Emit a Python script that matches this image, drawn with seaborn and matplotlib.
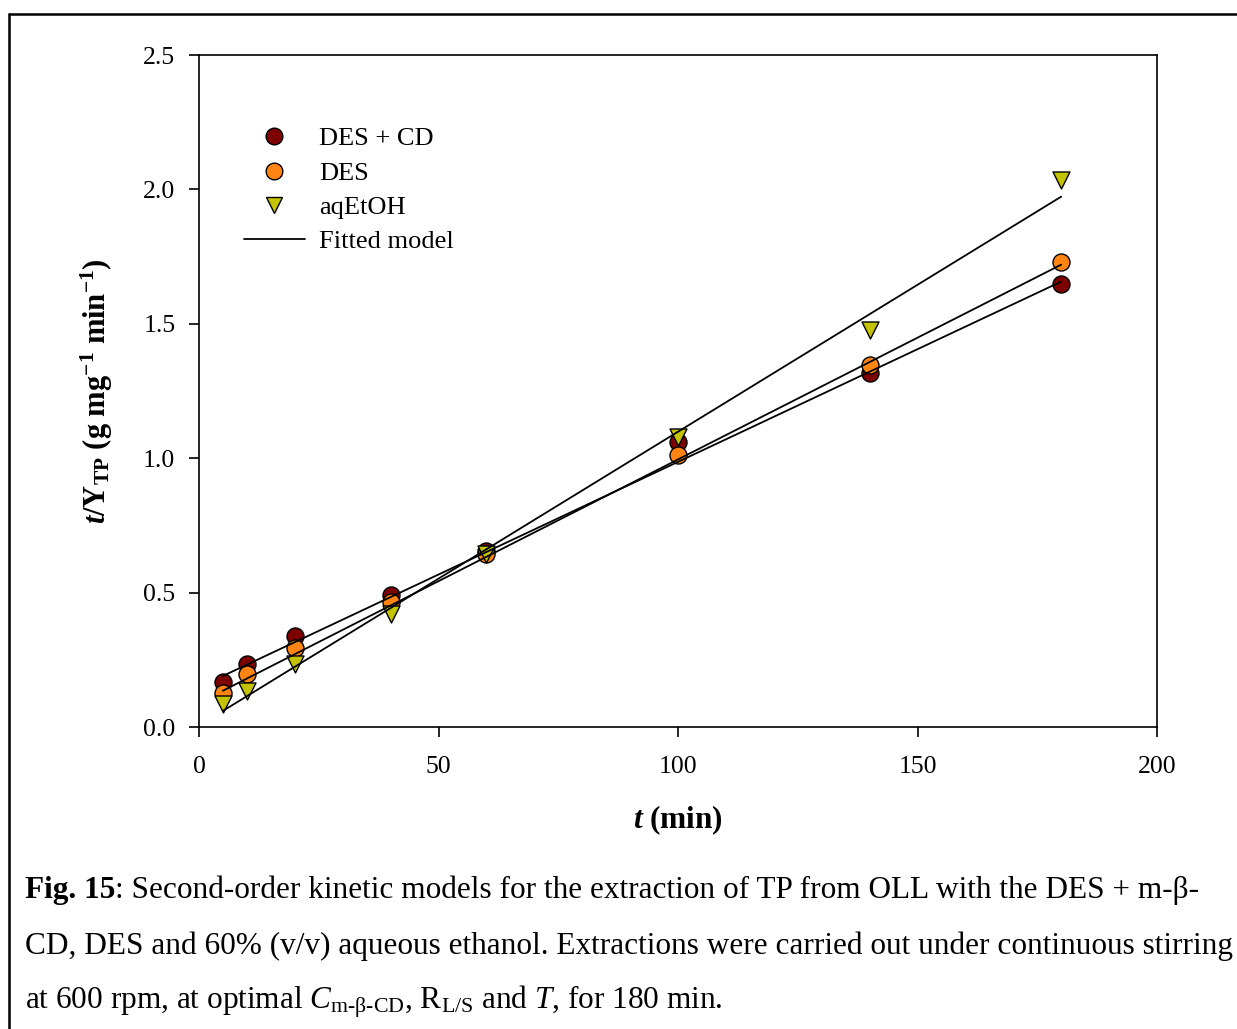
import matplotlib
matplotlib.use("Agg")
import numpy as np
import pandas as pd
import seaborn as sns
import matplotlib.pyplot as plt
from matplotlib.lines import Line2D

# ---------------- data ----------------
time_min = [5, 10, 20, 40, 60, 100, 140, 180]
des_cd = [0.168, 0.236, 0.340, 0.490, 0.653, 1.061, 1.318, 1.647]
des = [0.128, 0.196, 0.295, 0.466, 0.645, 1.012, 1.347, 1.729]
aqetoh = [0.085, 0.133, 0.234, 0.419, 0.645, 1.079, 1.477, 2.035]

# fitted second-order model lines (values at start / end time)
fit_t = [5, 180]
fit_des_cd = [0.190, 1.657]
fit_des = [0.135, 1.720]
fit_aqetoh = [0.060, 1.973]

series_names = ["DES + CD", "DES", "aqEtOH"]
x_ticks = [0, 50, 100, 150, 200]
y_ticks = [0.0, 0.5, 1.0, 1.5, 2.0, 2.5]

# ---------------- style ----------------
sns.set_theme(style="white")
plt.rcParams["font.family"] = ["Liberation Serif", "DejaVu Serif"]
plt.rcParams["mathtext.fontset"] = "custom"
plt.rcParams["mathtext.rm"] = "Liberation Serif"
plt.rcParams["mathtext.it"] = "Liberation Serif:italic"
plt.rcParams["mathtext.bf"] = "Liberation Serif:bold"
plt.rcParams["mathtext.bfit"] = "Liberation Serif:italic:bold"

colors = {"DES + CD": "#7d0000", "DES": "#ff8412", "aqEtOH": "#c3c300"}
markers = {"DES + CD": "o", "DES": "o", "aqEtOH": "v"}

pts = pd.DataFrame({
    "t": time_min * 3,
    "y": des_cd + des + aqetoh,
    "series": [n for n in series_names for _ in time_min],
})
fits = pd.DataFrame({
    "t": fit_t * 3,
    "y": fit_des_cd + fit_des + fit_aqetoh,
    "series": [n for n in series_names for _ in fit_t],
})

W, H = 1237, 1029
fig = plt.figure(figsize=(W / 100, H / 100), dpi=100)
fig.patch.set_facecolor("white")
ax = fig.add_axes([199 / W, 1 - 727 / H, 958 / W, 672 / H])

for i, name in enumerate(series_names):
    sub = pts[pts["series"] == name]
    sns.scatterplot(data=sub, x="t", y="y", ax=ax, color=colors[name],
                    marker=markers[name], s=150, edgecolor="black",
                    linewidth=1.0, zorder=3 + i, legend=False)

for name in series_names:
    sub = fits[fits["series"] == name]
    sns.lineplot(data=sub, x="t", y="y", ax=ax, color="black",
                 linewidth=1.3, zorder=10, legend=False, sort=False)

ax.set_xlim(0, 200)
ax.set_ylim(0, 2.5)
ax.set_xticks(x_ticks)
ax.set_xticklabels([str(v) for v in x_ticks])
ax.set_yticks(y_ticks)
ax.set_yticklabels([f"{v:.1f}" for v in y_ticks])

for sp in ax.spines.values():
    sp.set_visible(True)
    sp.set_color("black")
    sp.set_linewidth(1.2)

ax.tick_params(axis="both", which="major", direction="out", length=7,
               width=1.2, color="black", labelsize=18.5, labelcolor="black",
               bottom=True, left=True, top=False, right=False)
ax.tick_params(axis="x", pad=14)
ax.tick_params(axis="y", pad=10)

ax.set_xlabel(r"$\mathbfit{t}$ (min)", fontsize=22.5, fontweight="bold",
              labelpad=18, color="black")
ax.set_ylabel(r"$\mathbfit{t}$/Y$_{\mathbf{TP}}$ (g mg$^{\mathbf{-1}}$ min$^{\mathbf{-1}}$)",
              fontsize=22, fontweight="bold", labelpad=20, color="black")

handles = [
    Line2D([], [], linestyle="none", marker="o", markersize=12,
           markerfacecolor=colors["DES + CD"], markeredgecolor="black", markeredgewidth=1.0),
    Line2D([], [], linestyle="none", marker="o", markersize=12,
           markerfacecolor=colors["DES"], markeredgecolor="black", markeredgewidth=1.0),
    Line2D([], [], linestyle="none", marker="v", markersize=12,
           markerfacecolor=colors["aqEtOH"], markeredgecolor="black", markeredgewidth=1.0),
    Line2D([], [], color="black", linewidth=1.3),
]
labels = series_names + ["Fitted model"]
leg = ax.legend(handles, labels, loc="upper left",
                bbox_to_anchor=((244 - 199) / 958, (727 - 127) / 672),
                frameon=False, fontsize=19, borderpad=0, borderaxespad=0,
                handlelength=2.3, handletextpad=0.55, labelspacing=0.41)
for t in leg.get_texts():
    t.set_color("black")

# ---------------- caption ----------------
cap_fs = 22.5
x0 = 25 / W
t1 = fig.text(x0, 1 - 898 / H, "Fig. 15", fontsize=cap_fs, fontweight="bold",
              ha="left", va="baseline", color="black")
ax.annotate(": Second-order kinetic models for the extraction of TP from OLL with the DES + m-β-",
            xy=(1, 0), xycoords=t1, va="bottom", ha="left",
            fontsize=cap_fs, color="black", annotation_clip=False)
fig.text(x0, 1 - 954 / H,
         "CD, DES and 60% (v/v) aqueous ethanol. Extractions were carried out under continuous stirring",
         fontsize=cap_fs, ha="left", va="baseline", color="black")
fig.text(x0, 1 - 1009 / H,
         r"at 600 rpm, at optimal $\mathit{C}_{\mathrm{m}\text{-}\mathrm{β}\text{-}\mathrm{CD}}$, R$_{\mathrm{L/S}}$ and $\mathit{T}$, for 180 min.",
         fontsize=cap_fs, ha="left", va="baseline", color="black")

# ---------------- outer frame ----------------
fx = 9 / W
fy = 1 - 14 / H
fig.add_artist(Line2D([fx, 1.0], [fy, fy], transform=fig.transFigure,
                      color="black", linewidth=1.8))
fig.add_artist(Line2D([fx, fx], [0.0, fy], transform=fig.transFigure,
                      color="black", linewidth=1.8))

fig.savefig("out.png", dpi=100, facecolor="white")
